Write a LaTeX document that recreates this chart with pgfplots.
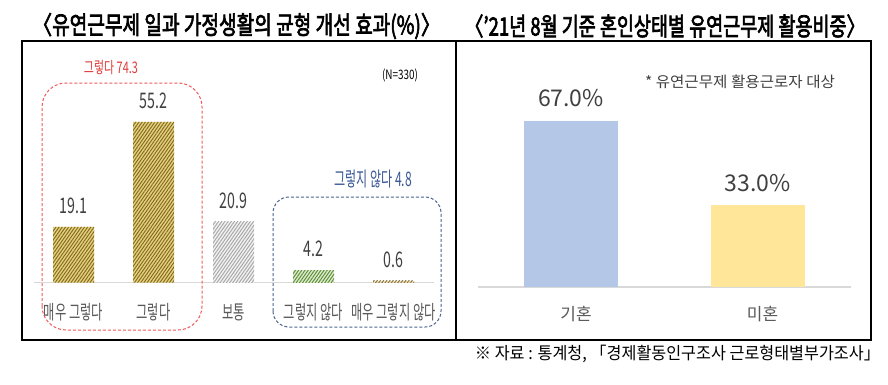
\documentclass[border=0pt]{standalone}
\usepackage{pgfplots}
\pgfplotsset{compat=1.18}
\usetikzlibrary{patterns.meta}
\usepackage{graphicx}
\usepackage{fontspec}
\setmainfont{Noto Sans CJK KR}
\newfontfamily\titlefont{Noto Sans CJK KR}[FakeBold=3]
\definecolor{txt}{HTML}{404040}
\definecolor{cat}{HTML}{595959}
\definecolor{base}{HTML}{D9D9D9}
\definecolor{goldfill}{HTML}{E6D07C}
\definecolor{goldline}{HTML}{806A22}
\definecolor{grayfill}{HTML}{F2F2F2}
\definecolor{grayline}{HTML}{A6A6A6}
\definecolor{greenfill}{HTML}{DCEBCD}
\definecolor{greenline}{HTML}{5B8C34}
\definecolor{dotfill}{HTML}{E8DDB8}
\definecolor{dotline}{HTML}{8A7440}
\definecolor{redbox}{HTML}{F05A5A}
\definecolor{redtxt}{HTML}{E03C3C}
\definecolor{bluebox}{HTML}{4A6490}
\definecolor{bluetxt}{HTML}{3C5A96}
\definecolor{barblue}{HTML}{B4C7E7}
\definecolor{baryel}{HTML}{FFE699}
\newcommand\fw[2]{\resizebox{#1}{\height}{#2}}
\newcommand\lc[1]{\scalebox{0.63}[1]{#1}}
\begin{document}
\begin{tikzpicture}
\useasboundingbox (0,0) rectangle (888pt,384pt);
\fill[white] (0,0) rectangle (888pt,384pt);
% frames
\draw[line width=1.2pt] (22pt,44pt) rectangle (456pt,343pt);
\draw[line width=1.2pt] (456pt,44pt) rectangle (871pt,343pt);
% titles
\node[inner sep=0pt, font=\titlefont\fontsize{25}{28}\selectfont] at (236.5pt,358pt) {\fw{407pt}{〈유연근무제 일과 가정생활의 균형 개선 효과(\%)〉}};
\node[inner sep=0pt, font=\titlefont\fontsize{25}{28}\selectfont] at (665pt,358pt) {\fw{400pt}{〈’21년 8월 기준 혼인상태별 유연근무제 활용비중〉}};

% left chart
\begin{axis}[at={(33.6pt,101.5pt)}, anchor=south west, scale only axis,
  width=400pt, height=232.8pt, xmin=-0.5, xmax=4.5, ymin=0, ymax=80,
  axis x line=bottom, axis y line=none,
  x axis line style={base, line width=1.5pt, -},
  xtick={0,1,2,3,4},
  xticklabels={{\lc{매우 그렇다}},{\lc{그렇다}},{\lc{보통}},{\lc{그렇지 않다}},{\lc{매우 그렇지 않다}}},
  major tick length=0pt,
  xticklabel style={anchor=center, yshift=-30pt, font=\fontsize{19.5}{22}\selectfont, text=cat},
  /pgf/number format/assume math mode=true,
  nodes near coords={\scalebox{0.66}[1]{\pgfmathprintnumber[fixed,fixed zerofill,precision=1]{\pgfplotspointmeta}}},
  every node near coord/.append style={anchor=south, yshift=13pt, inner sep=0pt, font=\fontsize{21.5}{24}\selectfont, text=txt},
  clip=false]
\addplot[ybar, bar width=41pt, bar shift=0pt, draw=none, fill=goldfill,
  postaction={pattern={Lines[angle=55,distance=2.6pt,line width=0.95pt]}, pattern color=goldline}]
  coordinates {(0,19.1) (1,55.2)};
\addplot[ybar, bar width=41pt, bar shift=0pt, draw=none, fill=grayfill,
  postaction={pattern={Lines[angle=55,distance=2.6pt,line width=0.95pt]}, pattern color=grayline}]
  coordinates {(2,20.9)};
\addplot[ybar, bar width=41pt, bar shift=0pt, draw=none, fill=greenfill,
  postaction={pattern={Lines[angle=55,distance=2.6pt,line width=0.95pt]}, pattern color=greenline}]
  coordinates {(3,4.2)};
\addplot[ybar, bar width=41pt, bar shift=0pt, draw=none, fill=dotfill,
  postaction={pattern={Lines[angle=55,distance=2.6pt,line width=0.95pt]}, pattern color=dotline}]
  coordinates {(4,0.6)};
\end{axis}

% right chart
\begin{axis}[at={(477.75pt,97pt)}, anchor=south west, scale only axis,
  width=373pt, height=198.24pt, xmin=-0.5, xmax=1.5, ymin=0, ymax=80,
  axis x line=bottom, axis y line=none,
  x axis line style={base, line width=1.5pt, -},
  xtick={0,1},
  xticklabels={기혼,미혼},
  major tick length=0pt,
  xticklabel style={anchor=center, yshift=-27.5pt, xshift=5pt, font=\fontsize{17}{20}\selectfont, text=cat},
  /pgf/number format/assume math mode=true,
  nodes near coords={\pgfmathprintnumber[fixed,fixed zerofill,precision=1]{\pgfplotspointmeta}\%},
  every node near coord/.append style={anchor=south, yshift=13.5pt, inner sep=0pt, font=\fontsize{23}{26}\selectfont, text=txt},
  clip=false]
\addplot[ybar, bar width=94pt, bar shift=0pt, draw=none, fill=barblue] coordinates {(0,67.0)};
\addplot[ybar, bar width=94pt, bar shift=0pt, draw=none, fill=baryel] coordinates {(1,33.0)};
\end{axis}

% annotations
\draw[redbox, line width=1pt, dash pattern=on 3pt off 2pt, rounded corners=24pt] (42pt,54pt) rectangle (202pt,301pt);
\node[inner sep=0pt, text=redtxt, font=\fontsize{16}{18}\selectfont] at (111pt,316.5pt) {\fw{54pt}{그렇다 74.3}};
\draw[bluebox, line width=1pt, dash pattern=on 3pt off 2pt, rounded corners=16pt] (273pt,57pt) rectangle (441pt,187pt);
\node[inner sep=0pt, text=bluetxt, font=\fontsize{20}{22}\selectfont] at (373pt,205pt) {\fw{78pt}{그렇지 않다 4.8}};
\node[inner sep=0pt, font=\fontsize{13}{15}\selectfont] at (400pt,308.5pt) {\fw{36pt}{(N=330)}};
\node[inner sep=0pt, text=txt, font=\fontsize{15}{17}\selectfont] at (740pt,302pt) {\fw{190pt}{* 유연근무제 활용근로자 대상}};
\node[inner sep=0pt, font=\fontsize{17}{19}\selectfont] at (677.5pt,30.5pt) {\fw{405pt}{※ 자료 : 통계청, 「경제활동인구조사 근로형태별부가조사」}};
\end{tikzpicture}
\end{document}
